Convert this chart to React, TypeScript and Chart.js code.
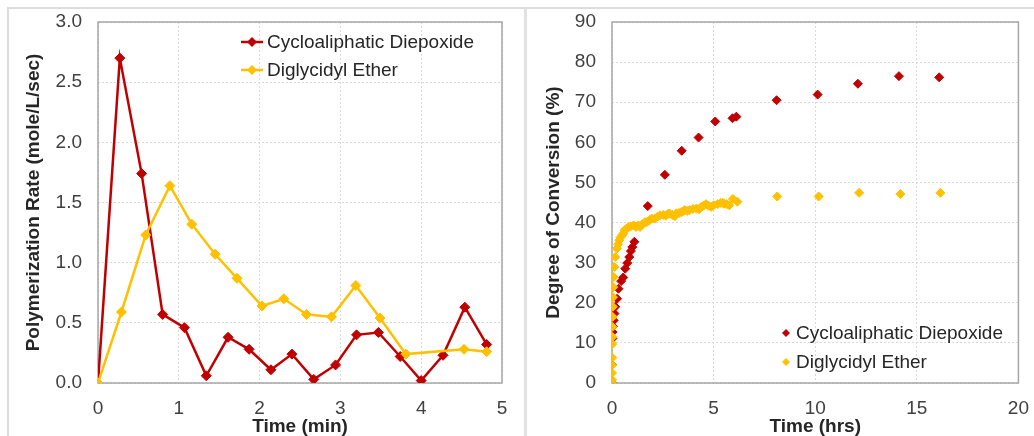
import React, { useEffect, useRef } from "react";
import { Chart, registerables } from "chart.js";

Chart.register(...registerables);

// ---------- Left chart: polymerization rate vs time (min) ----------
const cycloTimeMin = [0, 0.27, 0.54, 0.8, 1.07, 1.34, 1.61, 1.87, 2.14, 2.4, 2.67, 2.94, 3.2, 3.47, 3.74, 4.0, 4.27, 4.54, 4.81];
const cycloRate = [0, 2.7, 1.74, 0.57, 0.46, 0.06, 0.38, 0.28, 0.11, 0.24, 0.03, 0.15, 0.4, 0.42, 0.22, 0.02, 0.23, 0.63, 0.32];
const glyTimeMin = [0, 0.29, 0.59, 0.89, 1.16, 1.45, 1.72, 2.03, 2.3, 2.58, 2.89, 3.19, 3.49, 3.81, 4.53, 4.81];
const glyRate = [0, 0.59, 1.23, 1.64, 1.32, 1.07, 0.87, 0.64, 0.7, 0.57, 0.55, 0.81, 0.54, 0.24, 0.28, 0.26];

// ---------- Right chart: degree of conversion vs time (hrs) ----------
const cycloHrs = [0, 0, 0.02, 0.03, 0.05, 0.08, 0.12, 0.16, 0.25, 0.32, 0.45, 0.55, 0.65, 0.75, 0.85, 0.93, 1.0, 1.1, 1.76, 2.6, 3.43, 4.26, 5.08, 5.93, 6.12, 8.1, 10.12, 12.1, 14.12, 16.1];
const cycloConv = [0, 4.6, 11.1, 12.7, 14.1, 15.6, 17.3, 19.0, 21.0, 23.5, 25.4, 26.3, 28.5, 29.9, 31.4, 32.9, 33.9, 35.2, 44.1, 51.9, 57.9, 61.2, 65.2, 66.0, 66.4, 70.5, 71.9, 74.6, 76.5, 76.2];
const glyHrs = [0, 0, 0, 0.01, 0.01, 0.01, 0.02, 0.02, 0.03, 0.04, 0.05, 0.06, 0.08, 0.12, 0.16, 0.24, 0.3, 0.36, 0.42, 0.49, 0.55, 0.62, 0.7, 0.81, 0.92, 1.06, 1.18, 1.3, 1.38, 1.5, 1.62, 1.71, 1.85, 1.95, 2.11, 2.25, 2.36, 2.52, 2.65, 2.76, 2.84, 2.97, 3.09, 3.17, 3.3, 3.41, 3.5, 3.58, 3.7, 3.82, 3.98, 4.15, 4.28, 4.39, 4.5, 4.63, 4.75, 4.88, 5.0, 5.2, 5.35, 5.45, 5.53, 5.65, 5.77, 5.95, 6.17, 8.13, 10.17, 12.16, 14.19, 16.16];
const glyConv = [0, 0.8, 2.5, 4.5, 6.3, 9.7, 11.5, 14.0, 16.5, 19.0, 21.4, 23.9, 26.4, 28.9, 31.4, 33.5, 34.6, 35.6, 36.3, 36.8, 37.2, 38.1, 38.4, 38.9, 39.0, 39.3, 38.9, 39.3, 38.9, 39.6, 40.1, 40.1, 40.6, 41.0, 41.0, 41.5, 41.8, 41.9, 41.7, 42.2, 42.2, 41.9, 41.6, 42.3, 42.4, 42.6, 42.8, 43.1, 42.9, 43.1, 43.4, 43.5, 43.3, 43.9, 44.2, 44.6, 44.2, 43.9, 44.3, 44.6, 44.9, 44.9, 44.7, 44.6, 44.3, 45.9, 45.2, 46.5, 46.5, 47.4, 47.1, 47.4];

const seriesNames = ["Cycloaliphatic Diepoxide", "Diglycidyl Ether"];
const leftTicksX = [0, 1, 2, 3, 4, 5];
const rightTicksX = [0, 5, 10, 15, 20];

const RED = "#C00000";
const GOLD = "#FFC000";
const FONT = "'Liberation Sans', Arial, sans-serif";
const TICK_COLOR = "#404040";
const TITLE_COLOR = "#262626";

const pts = (xs: number[], ys: number[]) => xs.map((x, i) => ({ x, y: ys[i] }));

const frameAndLegend = {
  id: "frameAndLegend",
  beforeDatasetsDraw(chart: any) {
    const { ctx, chartArea } = chart;
    ctx.save();
    ctx.strokeStyle = "#a6a6a6";
    ctx.lineWidth = 1.5;
    ctx.strokeRect(chartArea.left, chartArea.top, chartArea.right - chartArea.left, chartArea.bottom - chartArea.top);
    ctx.restore();
  },
  afterDraw(chart: any, _args: any, opts: any) {
    const { ctx } = chart;
    const items = opts.items || [];
    ctx.save();
    items.forEach((it: any) => {
      if (opts.withLine) {
        ctx.strokeStyle = it.color;
        ctx.lineWidth = 2.5;
        ctx.beginPath();
        ctx.moveTo(opts.x - 11, it.y);
        ctx.lineTo(opts.x + 11, it.y);
        ctx.stroke();
      }
      const r = opts.r;
      ctx.fillStyle = it.color;
      ctx.beginPath();
      ctx.moveTo(opts.x, it.y - r);
      ctx.lineTo(opts.x + r, it.y);
      ctx.lineTo(opts.x, it.y + r);
      ctx.lineTo(opts.x - r, it.y);
      ctx.closePath();
      ctx.fill();
      ctx.fillStyle = TITLE_COLOR;
      ctx.font = `19px ${FONT}`;
      ctx.textBaseline = "middle";
      ctx.textAlign = "left";
      ctx.fillText(it.text, opts.textX, it.y + 1);
    });
    ctx.restore();
  },
};

function axis(min: number, max: number, step: number, title: string, horizontal: boolean, fit: number, fmt?: (v: number) => string, titlePad?: number) {
  return {
    type: "linear",
    min,
    max,
    ticks: {
      stepSize: step,
      padding: horizontal ? 5 : 6,
      color: TICK_COLOR,
      font: { size: 19, family: FONT },
      callback: fmt ? (v: any) => fmt(Number(v)) : (v: any) => String(v),
    },
    grid: {
      color: "#d9d9d9",
      lineWidth: 1,
      drawTicks: true,
      tickLength: horizontal ? 9 : 10,
      tickColor: "rgba(0,0,0,0)",
    },
    border: { display: false, dash: [2, 2] },
    title: {
      display: true,
      text: title,
      color: TITLE_COLOR,
      font: { size: 19, weight: "bold", family: FONT, lineHeight: 1 },
      padding: horizontal ? { top: 0, bottom: 0 } : { top: titlePad || 0, bottom: 0 },
    },
    afterFit: (s: any) => {
      if (horizontal) s.height = fit;
      else s.width = fit;
    },
  };
}

function useChart(ref: React.RefObject<HTMLCanvasElement>, build: () => any) {
  useEffect(() => {
    if (!ref.current) return;
    const chart = new Chart(ref.current, build());
    return () => chart.destroy();
  }, []);
}

export default function App() {
  const leftRef = useRef<HTMLCanvasElement>(null);
  const rightRef = useRef<HTMLCanvasElement>(null);

  useChart(leftRef, () => ({
    type: "scatter",
    data: {
      datasets: [
        {
          label: seriesNames[0],
          data: pts(cycloTimeMin, cycloRate),
          showLine: true,
          borderColor: RED,
          backgroundColor: RED,
          borderWidth: 2.5,
          pointStyle: "rectRot",
          pointRadius: 5,
          pointBorderWidth: 1,
          order: 1,
        },
        {
          label: seriesNames[1],
          data: pts(glyTimeMin, glyRate),
          showLine: true,
          borderColor: GOLD,
          backgroundColor: GOLD,
          borderWidth: 2.5,
          pointStyle: "rectRot",
          pointRadius: 5,
          pointBorderWidth: 1,
          order: 0,
        },
      ],
    },
    options: {
      responsive: false,
      animation: false,
      layout: { padding: { top: 22, right: 18, left: 0, bottom: 0 } },
      plugins: {
        legend: { display: false },
        tooltip: { enabled: false },
        frameAndLegend: {
          withLine: true,
          x: 252,
          textX: 267,
          r: 5,
          items: [
            { text: seriesNames[0], color: RED, y: 42 },
            { text: seriesNames[1], color: GOLD, y: 70 },
          ],
        },
      },
      scales: {
        x: axis(leftTicksX[0], leftTicksX[leftTicksX.length - 1], 1, "Time (min)", true, 53),
        y: axis(0, 3, 0.5, "Polymerization Rate (mole/L/sec)", false, 98, (v) => v.toFixed(1), 24.5),
      },
    },
    plugins: [frameAndLegend],
  }));

  useChart(rightRef, () => ({
    type: "scatter",
    data: {
      datasets: [
        {
          label: seriesNames[0],
          data: pts(cycloHrs, cycloConv),
          borderColor: RED,
          backgroundColor: RED,
          pointStyle: "rectRot",
          pointRadius: 4.5,
          pointBorderWidth: 1,
          order: 1,
        },
        {
          label: seriesNames[1],
          data: pts(glyHrs, glyConv),
          borderColor: GOLD,
          backgroundColor: GOLD,
          pointStyle: "rectRot",
          pointRadius: 4.5,
          pointBorderWidth: 1,
          order: 0,
        },
      ],
    },
    options: {
      responsive: false,
      animation: false,
      layout: { padding: { top: 22, right: 13, left: 0, bottom: 0 } },
      plugins: {
        legend: { display: false },
        tooltip: { enabled: false },
        frameAndLegend: {
          withLine: false,
          x: 266,
          textX: 276,
          r: 4,
          items: [
            { text: seriesNames[0], color: RED, y: 333 },
            { text: seriesNames[1], color: GOLD, y: 362 },
          ],
        },
      },
      scales: {
        x: axis(rightTicksX[0], rightTicksX[rightTicksX.length - 1], 5, "Time (hrs)", true, 53),
        y: axis(0, 90, 10, "Degree of Conversion (%)", false, 92, undefined, 24),
      },
    },
    plugins: [frameAndLegend],
  }));

  return (
    <div style={{ position: "absolute", left: 0, top: 0, width: 1034, height: 436, background: "#fff", overflow: "hidden" }}>
      <div style={{ position: "absolute", left: 7, top: 7, width: 1027, height: 2, background: "#dcdcdc" }} />
      <div style={{ position: "absolute", left: 7, top: 7, width: 2, height: 429, background: "#dcdcdc" }} />
      <div style={{ position: "absolute", left: 524, top: 8, width: 3, height: 428, background: "#e2e2e2" }} />
      <canvas ref={leftRef} width={520} height={436} style={{ position: "absolute", left: 0, top: 0, width: 520, height: 436 }} />
      <canvas ref={rightRef} width={514} height={436} style={{ position: "absolute", left: 520, top: 0, width: 514, height: 436 }} />
    </div>
  );
}
